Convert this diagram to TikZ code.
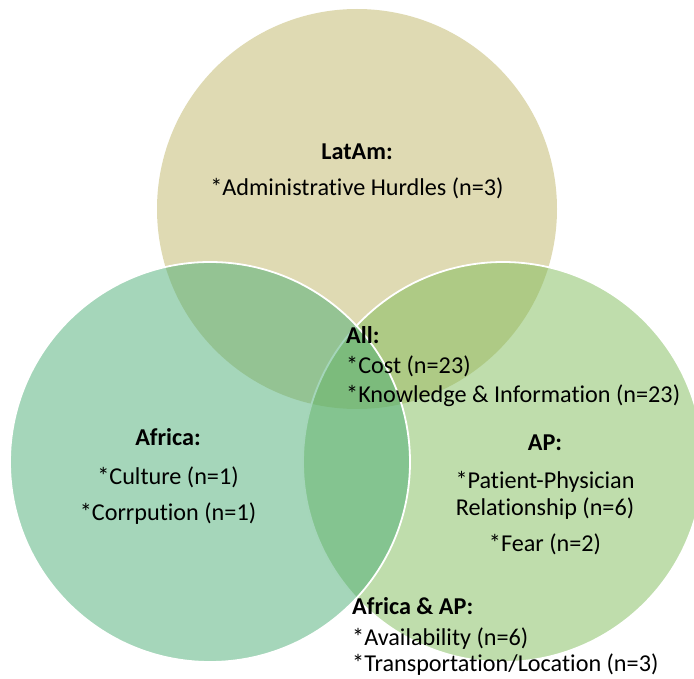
\documentclass[tikz,border=0pt]{standalone}
\usepackage{fontspec}
\setmainfont{Carlito}[Ligatures=NoCommon]
% base colours of the three sets, laid down at half opacity
\definecolor{latamfill}{RGB}{191,181,103}
\definecolor{apfill}{RGB}{127,187,89}
\definecolor{africafill}{RGB}{75,173,117}
\begin{document}
\begin{tikzpicture}[x=1pt,y=-1pt,
  setdisc/.style={fill opacity=0.5, draw=white, line width=1.8pt},
  txt/.style={font=\fontsize{24.2}{29}\selectfont, inner sep=0pt, anchor=base, text=black},
  head/.style={txt, font=\fontsize{24.2}{29}\selectfont\bfseries},
  txtl/.style={txt, anchor=base west},
  headl/.style={head, anchor=base west}]
\useasboundingbox (0,0) rectangle (694,679);
\begin{scope}
  \clip (0,0) rectangle (694,679);
  \fill[latamfill, fill opacity=0.5] (357,209) circle (200pt);
  \filldraw[setdisc, fill=apfill] (503,462) circle (200pt);
  \filldraw[setdisc, fill=africafill] (210,462) circle (200pt);
\end{scope}

% LatAm
\node[head] (latam) at (357,160) {LatAm:};
\node[txt] (latam1) at (357,196) {*Administrative Hurdles (n=3)};

% All three
\node[headl] (all) at (346,344) {All:};
\node[txtl] (all1) at (346,373) {*Cost (n=23)};
\node[txtl] (all2) at (346,402) {*Knowledge \& Information (n=23)};

% Africa
\node[head] (africa) at (168,445) {Africa:};
\node[txt] (africa1) at (168,484) {*Culture (n=1)};
\node[txt] (africa2) at (168,520) {*Corrpution (n=1)};

% AP
\node[head] (ap) at (545,450) {AP:};
\node[txt] (ap1) at (545,488) {*Patient-Physician};
\node[txt] (ap2) at (545,515) {Relationship (n=6)};
\node[txt] (ap3) at (545,551) {*Fear (n=2)};

% Africa & AP
\node[headl] (afap) at (352,614) {Africa \& AP:};
\node[txtl] (afap1) at (352,645) {*Availability (n=6)};
\node[txtl] (afap2) at (352,671) {*Transportation/Location (n=3)};
\end{tikzpicture}
\end{document}
